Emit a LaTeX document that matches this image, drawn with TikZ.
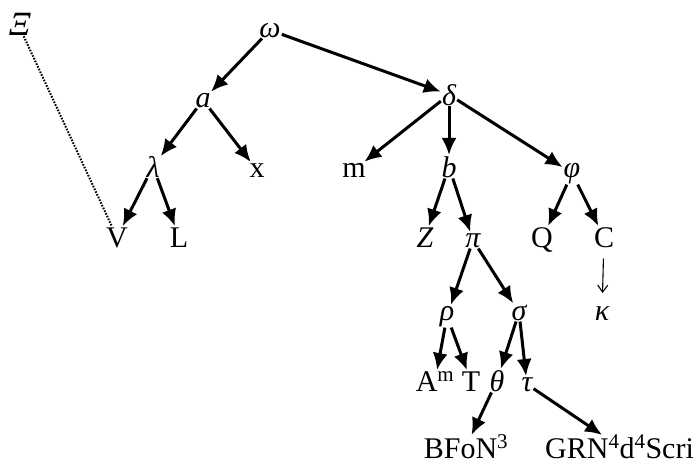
\documentclass[tikz,border=0pt]{standalone}
\usepackage{fontspec}
\setmainfont{Liberation Serif}
\newfontfamily\slantfont[FakeSlant=0.22]{Liberation Serif}
\usetikzlibrary{arrows.meta}
\begin{document}
\begin{tikzpicture}[x=1pt,y=-1pt,
  lbl/.style={anchor=base,inner sep=1pt,font=\fontsize{30}{36}\selectfont},
  gk/.style={lbl,font=\fontsize{30}{36}\selectfont\itshape},
  arr/.style={line width=3pt,-{Latex[length=17pt,width=15pt]}},
  thinarr/.style={line width=1.1pt,-{Straight Barb[length=7pt,width=10pt]},shorten <=10pt,shorten >=12pt},
  dots/.style={line width=2pt,dash pattern=on 1.6pt off 1.4pt}]
\useasboundingbox (0,0) rectangle (700,463);
% nodes
\node[lbl,font=\fontsize{34}{40}\slantfont] (Xi) at (18,35) {Ξ};
\node[gk] (omega) at (270,37) {ω};
\node[gk] (a) at (203,107) {a};
\node[gk] (delta) at (449,105) {δ};
\node[gk] (lambda) at (153,177) {λ};
\node[lbl] (x) at (257,177) {x};
\node[lbl] (m) at (354,177) {m};
\node[gk] (b) at (449,177) {b};
\node[gk] (phi) at (572,177) {φ};
\node[lbl] (V) at (117,247) {V};
\node[lbl] (L) at (179,247) {L};
\node[gk] (Z) at (425,247) {Z};
\node[gk] (pi) at (473,247) {π};
\node[lbl] (Q) at (542,247) {Q};
\node[lbl] (C) at (604,247) {C};
\node[gk] (kappa) at (602,320) {κ};
\node[gk] (rho) at (447,320) {ρ};
\node[gk] (sigma) at (519,320) {σ};
\node[lbl] (A) at (435,391) {A\textsuperscript{m}};
\node[lbl] (T) at (471,391) {T};
\node[gk] (theta) at (497,391) {θ};
\node[gk] (tau) at (527,391) {τ};
\node[lbl,inner sep=0pt] (B) at (466,458) {BFoN\textsuperscript{3}};
\node[lbl,anchor=base west,inner sep=0pt] (G) at (545,458) {GRN\textsuperscript{4}d\textsuperscript{4}Scri};
% connectors
\draw[arr] (omega) -- (a);
\draw[arr] (omega) -- (delta);
\draw[arr] (a) -- (lambda);
\draw[arr] (a) -- (x);
\draw[arr] (lambda) -- (V);
\draw[arr] (lambda) -- (L);
\draw[dots] (Xi) -- (V);
\draw[arr] (delta) -- (m);
\draw[arr] (delta) -- (b);
\draw[arr] (delta) -- (phi);
\draw[arr] (b) -- (Z);
\draw[arr] (b) -- (pi);
\draw[arr] (phi) -- (Q);
\draw[arr] (phi) -- (C);
\draw[thinarr] (C) -- (kappa);
\draw[arr] (pi) -- (rho);
\draw[arr] (pi) -- (sigma);
\draw[arr] (rho) -- (A);
\draw[arr] (rho) -- (T);
\draw[arr] (sigma) -- (theta);
\draw[arr] (sigma) -- (tau);
\draw[arr] (theta) -- (B);
\draw[arr] (tau) -- (G);
\end{tikzpicture}
\end{document}
